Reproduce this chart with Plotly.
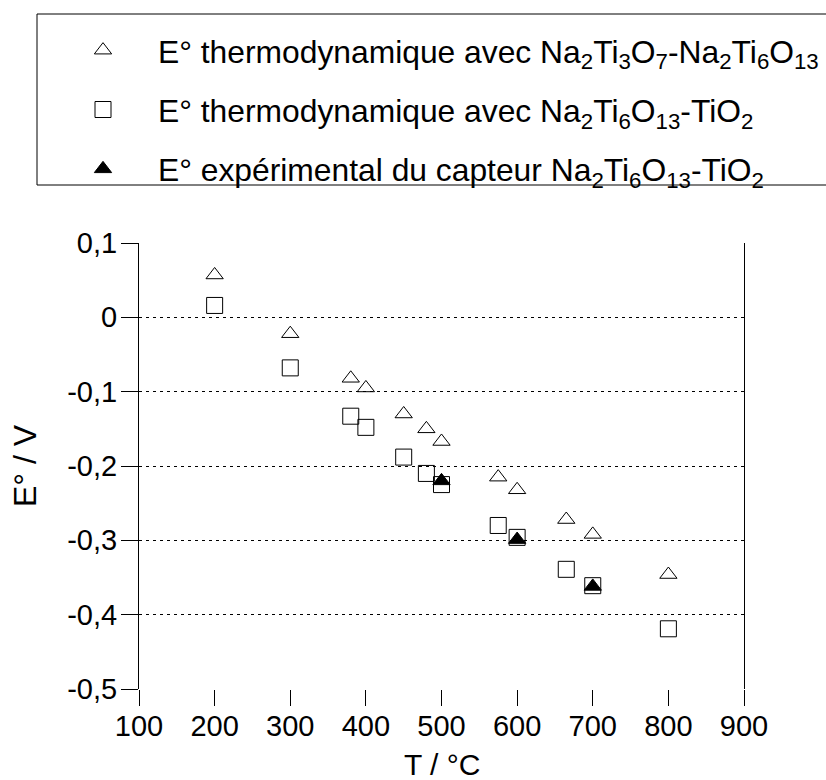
import plotly.graph_objects as go

# Data
temps = [200, 300, 380, 400, 450, 480, 500, 575, 600, 665, 700, 800]
e_thermo_na2ti3o7 = [0.057, -0.022, -0.082, -0.095, -0.130, -0.150, -0.167,
                     -0.215, -0.232, -0.272, -0.292, -0.346]
e_thermo_tio2 = [0.016, -0.068, -0.133, -0.148, -0.188, -0.210, -0.225,
                 -0.280, -0.296, -0.339, -0.361, -0.419]
temps_exp = [500, 600, 700]
e_exp = [-0.220, -0.299, -0.362]

y_tickvals = [0.1, 0, -0.1, -0.2, -0.3, -0.4, -0.5]
y_ticktext = ["0,1", "0", "-0,1", "-0,2", "-0,3", "-0,4", "-0,5"]
x_tickvals = [100, 200, 300, 400, 500, 600, 700, 800, 900]

names = [
    "E° thermodynamique avec Na<sub>2</sub>Ti<sub>3</sub>O<sub>7</sub>-Na<sub>2</sub>Ti<sub>6</sub>O<sub>13</sub>",
    "E° thermodynamique avec Na<sub>2</sub>Ti<sub>6</sub>O<sub>13</sub>-TiO<sub>2</sub>",
    "E° expérimental du capteur Na<sub>2</sub>Ti<sub>6</sub>O<sub>13</sub>-TiO<sub>2</sub>",
]
x_title = "T / °C"
y_title = "E° / V"

FONT = "Liberation Sans, Arial, sans-serif"

fig = go.Figure()
fig.add_trace(go.Scatter(
    x=temps, y=e_thermo_na2ti3o7, mode="markers", name=names[0], legendgroup="a",
    marker=dict(symbol="triangle-up-open", size=15, color="black", line=dict(width=1, color="black")),
))
fig.add_trace(go.Scatter(
    x=temps, y=e_thermo_tio2, mode="markers", name=names[1], legendgroup="b",
    marker=dict(symbol="square-open", size=16, color="black", line=dict(width=1, color="black")),
))
fig.add_trace(go.Scatter(
    x=temps_exp, y=e_exp, mode="markers", name=names[2], legendgroup="c",
    marker=dict(symbol="triangle-up", size=15, color="black", line=dict(width=1, color="black")),
))

L, R, T, B = 139, 82, 243, 91
W, H = 826, 780
pw, ph = W - L - R, H - T - B

def px_to_paper_x(px):
    return (px - L) / pw

def px_to_paper_y(py):
    return (H - B - py) / ph

fig.update_layout(
    width=W, height=H,
    margin=dict(l=L, r=R, t=T, b=B, autoexpand=False),
    paper_bgcolor="white", plot_bgcolor="white",
    font=dict(family=FONT, size=29, color="black"),
    showlegend=True,
    legend=dict(
        x=px_to_paper_x(48), xanchor="left",
        y=px_to_paper_y(23), yanchor="top",
        bgcolor="rgba(0,0,0,0)", borderwidth=0,
        font=dict(family=FONT, size=31.8, color="black"),
        itemwidth=100, tracegroupgap=15,
        itemclick=False, itemdoubleclick=False,
    ),
    shapes=[dict(
        type="rect", xref="paper", yref="paper",
        x0=px_to_paper_x(37), x1=px_to_paper_x(840),
        y0=px_to_paper_y(185), y1=px_to_paper_y(14),
        line=dict(color="black", width=1), fillcolor="rgba(0,0,0,0)", layer="above",
    )],
    annotations=[dict(
        text=x_title, xref="paper", yref="paper",
        x=0.5, y=px_to_paper_y(764), xanchor="center", yanchor="middle",
        showarrow=False, font=dict(family=FONT, size=30, color="black"),
    )],
    xaxis=dict(
        range=[100, 900], tickvals=x_tickvals, ticks="outside", ticklen=16,
        tickcolor="black", tickwidth=1, showgrid=False, showline=False, zeroline=False,
        tickfont=dict(size=29), ticklabelstandoff=-5,
    ),
    yaxis=dict(
        range=[-0.5, 0.1], tickvals=y_tickvals, ticktext=y_ticktext,
        ticks="outside", ticklen=17, tickcolor="black", tickwidth=1,
        showline=True, mirror=True, linecolor="black", linewidth=1,
        showgrid=True, gridcolor="black", gridwidth=1, griddash="3px,4px",
        zeroline=False, tickfont=dict(size=29), ticklabelstandoff=-2,
        title=dict(text=y_title, font=dict(size=32), standoff=21),
    ),
)

# remove the default page margin so the figure sits at the window's top-left corner
fig.write_html(
    "out.html",
    config={"displayModeBar": False},
    post_script="document.body.style.margin='0';document.body.style.overflow='hidden';",
)
